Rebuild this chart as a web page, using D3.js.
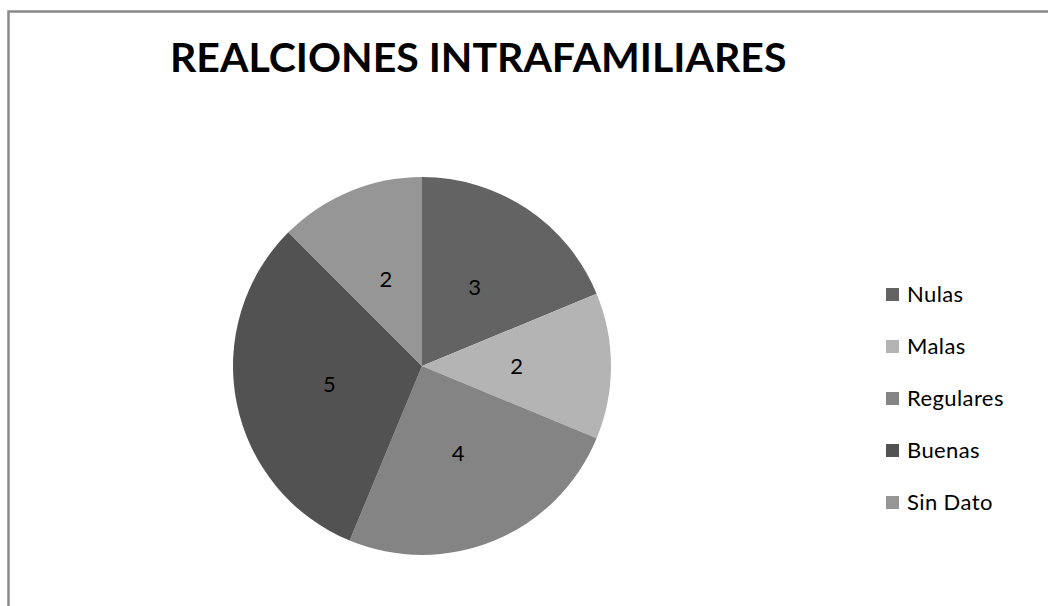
<!DOCTYPE html>
<html>
<head>
<meta charset="utf-8">
<script src="https://cdn.jsdelivr.net/npm/d3@7"></script>
<style>
  body { margin: 0; background: #fff; }
  svg { display: block; }
</style>
</head>
<body>
<div id="chart"></div>
<script>
const categories = ['Nulas', 'Malas', 'Regulares', 'Buenas', 'Sin Dato'];
const values = [3, 2, 4, 5, 2];
const colors = ['#636363', '#b4b4b4', '#848484', '#525252', '#969696'];

const width = 1048;
const height = 606;
const cx = 422, cy = 366, radius = 189;

const svg = d3.select('#chart')
    .append('svg')
    .attr('width', width)
    .attr('height', height);

// frame (right and bottom edges fall outside the window)
svg.append('rect')
    .attr('x', 8.5)
    .attr('y', 11.5)
    .attr('width', width + 20)
    .attr('height', height + 20)
    .attr('fill', 'none')
    .attr('stroke', '#8a8a8a')
    .attr('stroke-width', 2.5);

svg.append('text')
    .attr('x', 170)
    .attr('y', 72)
    .attr('font-family', 'Lato, sans-serif')
    .attr('font-weight', 'bold')
    .attr('font-size', 41)
    .attr('fill', '#000')
    .text('REALCIONES INTRAFAMILIARES');

const pie = d3.pie().sort(null).value(d => d.value);
const arcs = pie(categories.map((c, i) => ({ name: c, value: values[i], color: colors[i] })));

const arc = d3.arc().innerRadius(0).outerRadius(radius);
const labelArc = d3.arc().innerRadius(radius * 0.5).outerRadius(radius * 0.5);

const g = svg.append('g').attr('transform', `translate(${cx},${cy})`);

g.selectAll('path')
    .data(arcs)
    .enter()
    .append('path')
    .attr('d', arc)
    .attr('fill', d => d.data.color);

g.selectAll('text')
    .data(arcs)
    .enter()
    .append('text')
    .attr('transform', d => `translate(${labelArc.centroid(d)})`)
    .attr('text-anchor', 'middle')
    .attr('dy', '0.36em')
    .attr('font-family', 'Lato, sans-serif')
    .attr('font-size', 22)
    .attr('fill', '#000')
    .text(d => d.data.value);

// legend
const legend = svg.append('g').attr('transform', 'translate(886,288)');
const item = legend.selectAll('g')
    .data(categories)
    .enter()
    .append('g')
    .attr('transform', (d, i) => `translate(0,${i * 52})`);

item.append('rect')
    .attr('width', 13)
    .attr('height', 13)
    .attr('fill', (d, i) => colors[i]);

item.append('text')
    .attr('x', 21)
    .attr('y', 14)
    .attr('font-family', 'Lato, sans-serif')
    .attr('font-size', 22)
    .attr('letter-spacing', 0.4)
    .attr('fill', '#000')
    .text(d => d);
</script>
</body>
</html>
